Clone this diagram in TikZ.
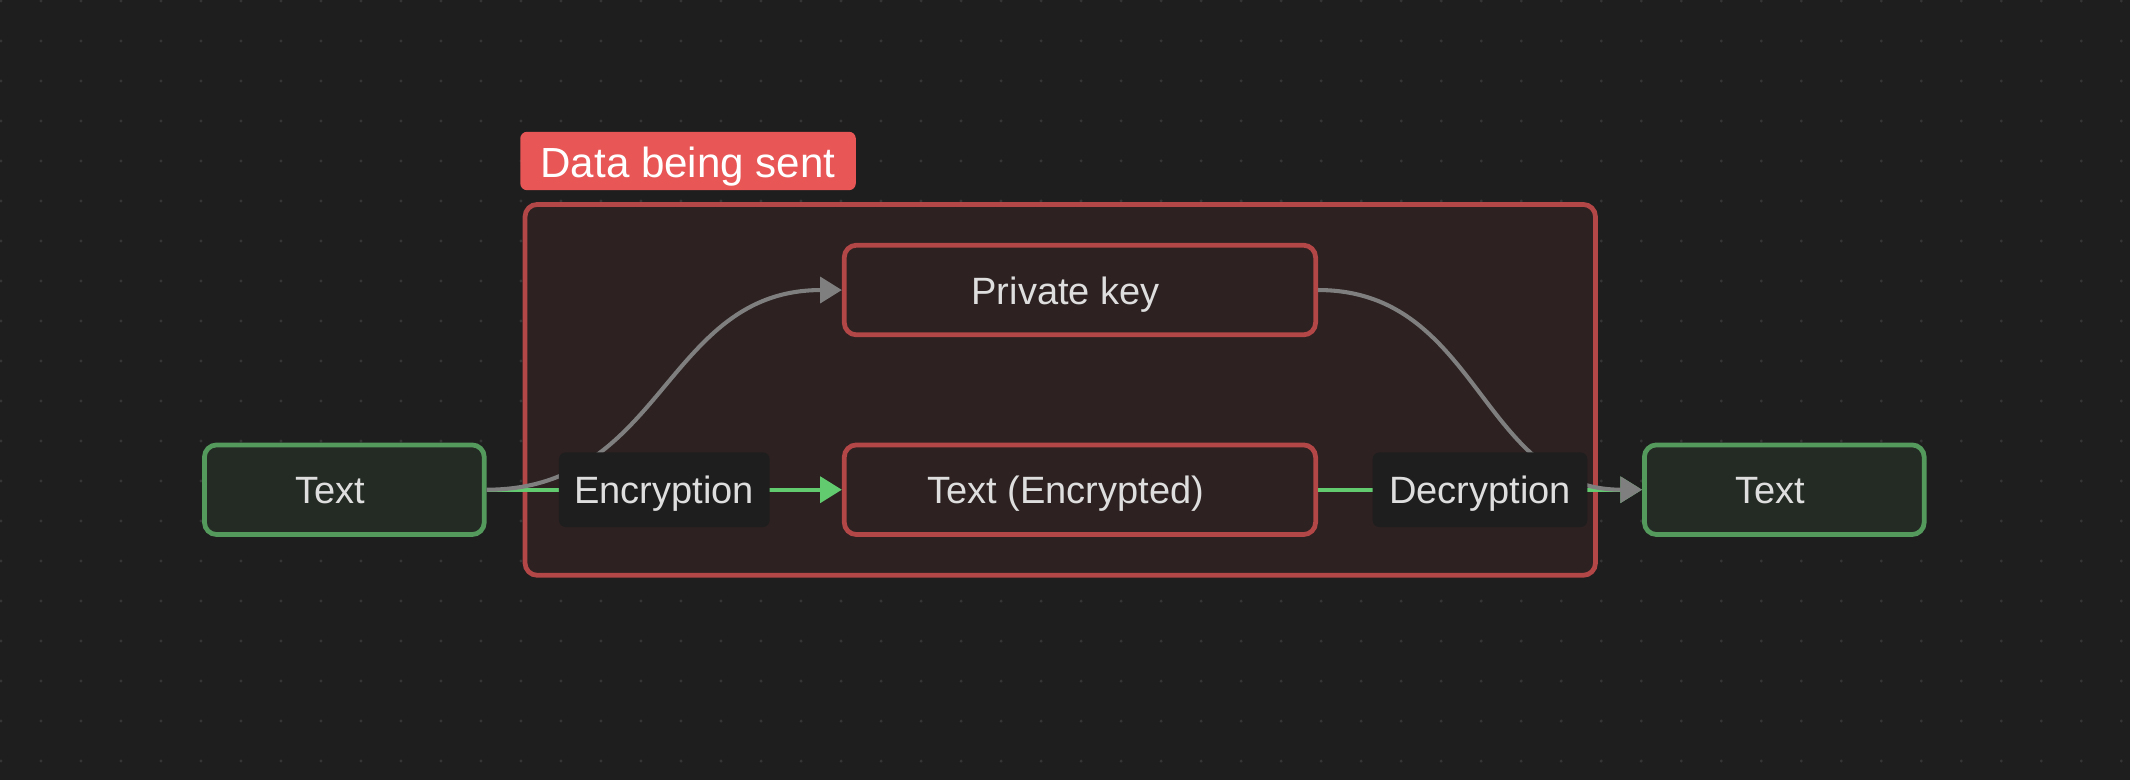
\documentclass[tikz,border=0pt]{standalone}
\usepackage{fontspec}
\setmainfont{Liberation Sans}
\usetikzlibrary{arrows.meta,positioning,calc}

\definecolor{bg}{HTML}{1E1E1E}
\definecolor{dotc}{HTML}{353535}
\definecolor{fg}{HTML}{DEDEDE}
\definecolor{grnline}{HTML}{559A5D}
\definecolor{grnfill}{HTML}{242A24}
\definecolor{redline}{HTML}{B34646}
\definecolor{redfill}{HTML}{2D2121}
\definecolor{tagred}{HTML}{E85656}
\definecolor{grnedge}{HTML}{62CB70}
\definecolor{grayedge}{HTML}{7F7F7F}

\begin{document}
\begin{tikzpicture}[x=1pt, y=-1pt]
        \tikzstyle{plainbox}=[rectangle, rounded corners=9pt, line width=3.5pt, text=fg, font=\fontsize{28}{34}\selectfont, minimum height=66pt, inner sep=0pt, text height=24pt, text depth=3pt, execute at begin node=\kern-21pt]
        \tikzstyle{endbox}=[plainbox, draw=grnline, fill=grnfill, minimum width=206pt]
        \tikzstyle{databox}=[plainbox, draw=redline, fill=redfill, minimum width=347pt]
        \tikzstyle{grpbox}=[rectangle, rounded corners=9pt, line width=3.5pt, draw=redline, fill=redfill, minimum width=788pt, minimum height=273pt]
        \tikzstyle{tagbox}=[rectangle, rounded corners=5pt, fill=tagred, text=white, font=\fontsize{31}{36}\selectfont, minimum width=247pt, minimum height=43pt, inner sep=0pt, text height=27pt, text depth=2pt]
        \tikzstyle{steplbl}=[rectangle, rounded corners=5pt, fill=bg, text=fg, font=\fontsize{28}{34}\selectfont, minimum height=55pt, inner sep=0pt, text height=24pt, text depth=3pt]
        \tikzstyle{green}=[line width=3pt, draw=grnedge, -{Triangle[length=16pt, width=19pt]}]
        \tikzstyle{gray}=[line width=3pt, draw=grayedge, -{Triangle[length=16pt, width=19pt]}]

        % Background with dots
        \useasboundingbox (0,0) rectangle (1568,574);
        \fill[bg] (0,0) rectangle (1568,574);
        \foreach \i in {0,...,53} {
            \foreach \j in {0,...,19} {
                \fill[dotc] (0.7+29.45*\i, 0.7+29.45*\j) circle (1.2pt);
            }
        }

        % Group
        \node (grp) [grpbox] at (780.5,287) {};
        \node (tag) [tagbox] at (506.5,118.5) {Data being sent};

        % Nodes
        \node (txtin) [endbox] at (253.5,360.5) {Text};
        \node (privkey) [databox] at (795,213.5) {Private key};
        \node (encr) [databox] at (795,360.5) {Text (Encrypted)};
        \node (txtout) [endbox] at (1313.5,360.5) {Text};

        % Arrows
        \draw[green] (txtin.east) -- (encr.west);
        \draw[green] (encr.east) -- (txtout.west);
        \draw[gray] (txtin.east) .. controls ($(txtin.east)!0.5!(privkey.west|-txtin.east)$) and ($(privkey.west)!0.5!(txtin.east|-privkey.west)$) .. (privkey.west);
        \draw[gray] (privkey.east) .. controls ($(privkey.east)!0.5!(txtout.west|-privkey.east)$) and ($(txtout.west)!0.5!(privkey.east|-txtout.west)$) .. (txtout.west);

        % Labels
        \path (txtin.east) -- node (enc) [steplbl, minimum width=155pt] {Encryption} (encr.west);
        \path (encr.east) -- node (dec) [steplbl, minimum width=158pt] {Decryption} (txtout.west);
    \end{tikzpicture}
\end{document}
